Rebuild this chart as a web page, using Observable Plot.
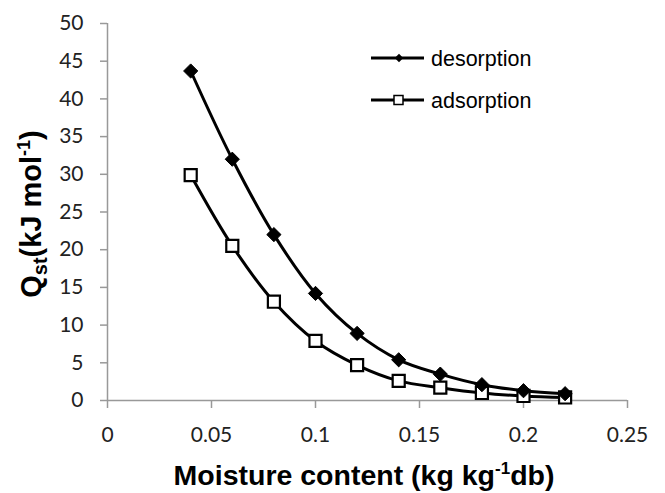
<!DOCTYPE html>
<html>
<head>
<meta charset="utf-8">
<script src="https://cdn.jsdelivr.net/npm/d3@7"></script>
<script src="https://cdn.jsdelivr.net/npm/@observablehq/plot@0.6"></script>
<style>
  html, body { margin: 0; padding: 0; background: #fff; }
  #chart { position: relative; width: 665px; height: 493px; }
</style>
</head>
<body>
<div id="chart"></div>
<script>
const moisture = [0.04, 0.06, 0.08, 0.10, 0.12, 0.14, 0.16, 0.18, 0.20, 0.22];
const desorption = [43.7, 32.0, 22.0, 14.2, 8.9, 5.4, 3.5, 2.1, 1.3, 0.9];
const adsorption = [29.9, 20.5, 13.1, 7.9, 4.7, 2.6, 1.7, 1.0, 0.6, 0.4];
const xTicks = [0, 0.05, 0.1, 0.15, 0.2, 0.25];
const xTickLabels = ["0", "0.05", "0.1", "0.15", "0.2", "0.25"];
const yTicks = [0, 5, 10, 15, 20, 25, 30, 35, 40, 45, 50];
const seriesNames = ["desorption", "adsorption"];

const des = moisture.map((m, i) => ({x: m, y: desorption[i]}));
const ads = moisture.map((m, i) => ({x: m, y: adsorption[i]}));

const axisGray = "#999999";
const tickFont = "Lato, 'Open Sans', sans-serif";

const plot = Plot.plot({
  width: 665,
  height: 493,
  marginLeft: 107,
  marginRight: 38,
  marginTop: 23,
  marginBottom: 93,
  style: {background: "#fff", fontFamily: tickFont},
  x: {domain: [0, 0.25]},
  y: {domain: [0, 50]},
  marks: [
    Plot.ruleY([0], {stroke: axisGray, strokeWidth: 1.5}),
    Plot.ruleX([0], {stroke: axisGray, strokeWidth: 1.5}),
    Plot.axisX({ticks: xTicks, tickFormat: (d, i) => xTickLabels[i], tickSize: 8, tickPadding: 19,
      stroke: axisGray, strokeWidth: 1.5, fill: "#222", fontSize: 21, label: null}),
    Plot.axisY({ticks: yTicks, tickSize: 7, tickPadding: 17,
      stroke: axisGray, strokeWidth: 1.5, fill: "#222", fontSize: 21, label: null}),
    Plot.line(des, {x: "x", y: "y", curve: "catmull-rom", stroke: "#000", strokeWidth: 3}),
    Plot.line(ads, {x: "x", y: "y", curve: "catmull-rom", stroke: "#000", strokeWidth: 3}),
    Plot.dot(ads, {x: "x", y: "y", symbol: "square", r: 6.8, fill: "#fff", stroke: "#000", strokeWidth: 2.2}),
    Plot.dot(des, {x: "x", y: "y", symbol: "diamond2", r: 6.4, fill: "#000", stroke: "#000", strokeWidth: 1})
  ]
});

document.getElementById("chart").appendChild(plot);

const svg = d3.select(plot);
const boldFont = "'Liberation Sans', Arial, sans-serif";

// Y axis title
const yl = svg.append("text")
  .attr("transform", "translate(41,214) rotate(-90)")
  .attr("text-anchor", "middle")
  .attr("font-family", boldFont)
  .attr("font-weight", "bold")
  .attr("font-size", 29)
  .attr("fill", "#000");
yl.append("tspan").text("Q");
yl.append("tspan").attr("font-size", 20).attr("dy", 6).text("st");
yl.append("tspan").attr("dy", -6).text("(kJ mol");
yl.append("tspan").attr("font-size", 18).attr("dy", -11).text("-1");
yl.append("tspan").attr("dy", 11).text(")");

// X axis title
const xl = svg.append("text")
  .attr("x", 364)
  .attr("y", 485)
  .attr("text-anchor", "middle")
  .attr("font-family", boldFont)
  .attr("font-weight", "bold")
  .attr("font-size", 28.5)
  .attr("fill", "#000");
xl.append("tspan").text("Moisture content (kg kg");
xl.append("tspan").attr("font-size", 17).attr("dy", -11).text("-1");
xl.append("tspan").attr("dy", 11).text("db)");

// Legend
const legendY = [58, 100];
const lg = svg.append("g");
seriesNames.forEach((name, i) => {
  const y = legendY[i];
  lg.append("line").attr("x1", 371).attr("x2", 424).attr("y1", y).attr("y2", y)
    .attr("stroke", "#000").attr("stroke-width", 3);
  if (i === 0) {
    lg.append("path").attr("d", d3.symbol(d3.symbolDiamond2, 45)()).attr("transform", `translate(399,${y})`)
      .attr("fill", "#000");
  } else {
    lg.append("rect").attr("x", 394).attr("y", y - 4.5).attr("width", 9).attr("height", 9)
      .attr("fill", "#fff").attr("stroke", "#000").attr("stroke-width", 1.5);
  }
  lg.append("text").attr("x", 431).attr("y", y + 7.5)
    .attr("text-anchor", "start")
    .attr("font-family", "'Liberation Sans', Arial, sans-serif")
    .attr("font-size", 21.5).attr("fill", "#000").text(name);
});
</script>
</body>
</html>
